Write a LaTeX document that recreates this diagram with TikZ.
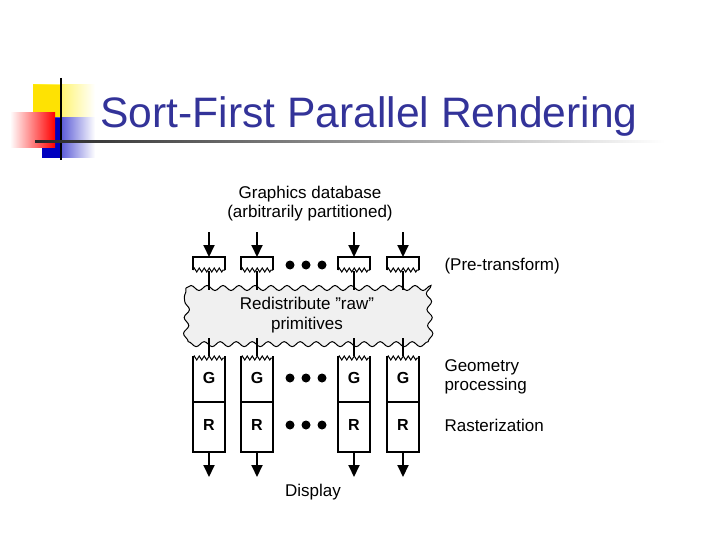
\documentclass[tikz,border=0pt]{standalone}
\usepackage{fontspec}
\setmainfont{Liberation Sans}
\usetikzlibrary{decorations.pathmorphing,arrows.meta}
\definecolor{ttl}{HTML}{333399}
\begin{document}
\begin{tikzpicture}[x=1pt,y=-1pt,
  ln/.style={line width=2pt},
  arr/.style={line width=2pt,-{Triangle[length=12pt,width=11pt]}},
  lbl/.style={font=\fontsize{17}{19}\selectfont,align=left,anchor=west},
  zz/.style={line width=1pt,decorate,decoration={zigzag,segment length=5pt,amplitude=2pt}},
  dot/.style={circle,fill=black,inner sep=0pt,minimum size=9pt}]
\useasboundingbox (0,0) rectangle (720,540);
% decoration
\shade[left color=yellow!85!orange,right color=white] (33,85) rectangle (95,118);
\fill[yellow!85!orange] (33,85) rectangle (62,118);
\shade[left color=blue!75!black,right color=white] (42,118) rectangle (95,158);
\fill[blue!75!black] (42,118) rectangle (62,158);
\shade[left color=white,right color=red] (10,113) rectangle (55,148);
\draw[line width=1.5pt] (61,78) -- (61,160);
\shade[left color=black!85,right color=white] (35,140.5) rectangle (665,143);
\node[anchor=base west,text=ttl,font=\fontsize{42.6}{46}\selectfont,inner sep=0pt] (title) at (100,128) {Sort-First Parallel Rendering};
% labels
\node[font=\fontsize{17}{19}\selectfont,align=center] (db) at (310,204) {Graphics database\\(arbitrarily partitioned)};
\node[lbl] (pt) at (441,266) {(Pre-transform)};
\node[lbl] (gp) at (441,377) {Geometry\\processing};
\node[lbl] (rz) at (441,425) {Rasterization};
\node[font=\fontsize{17}{19}\selectfont] (disp) at (313,492) {Display};
% cloud
\draw[line width=1pt,fill=gray!12,decorate,decoration={snake,segment length=16pt,amplitude=2.5pt}]
  (186,288) -- (428,288) -- (430,339) -- (184,339) -- cycle;
\node[font=\fontsize{17}{20}\selectfont,align=center] (cl) at (307,315) {Redistribute \char34 raw\char34\\primitives};
\foreach \i/\x in {1/209,2/257,3/354,4/403}{
  \coordinate (a\i) at (\x,232);
  \coordinate (t\i) at (\x,257);
  \draw[arr] (a\i) -- (t\i);
  \draw[line width=2pt] (\x-16,270) -- (\x-16,257) -- (\x+16,257) -- (\x+16,270);
  \draw[zz] (\x-16,270) -- (\x+16,270);
  \draw[ln] (\x,271) -- (\x,290);
  \draw[ln] (\x,338) -- (\x,356);
  \draw[zz] (\x-16,358) -- (\x+16,358);
  \draw[line width=2pt] (\x-16,356) -- (\x-16,452) -- (\x+16,452) -- (\x+16,356);
  \draw[line width=2pt] (\x-16,402) -- (\x+16,402);
  \node[font=\bfseries\fontsize{16}{18}\selectfont] (g\i) at (\x,378) {G};
  \node[font=\bfseries\fontsize{16}{18}\selectfont] (r\i) at (\x,425) {R};
  \coordinate (b\i) at (\x,453);
  \coordinate (e\i) at (\x,477);
  \draw[arr] (b\i) -- (e\i);
}
\foreach \y in {265,378,425}{
  \node[dot] at (290,\y) {}; \node[dot] at (306,\y) {}; \node[dot] at (322,\y) {};
}
\end{tikzpicture}
\end{document}
